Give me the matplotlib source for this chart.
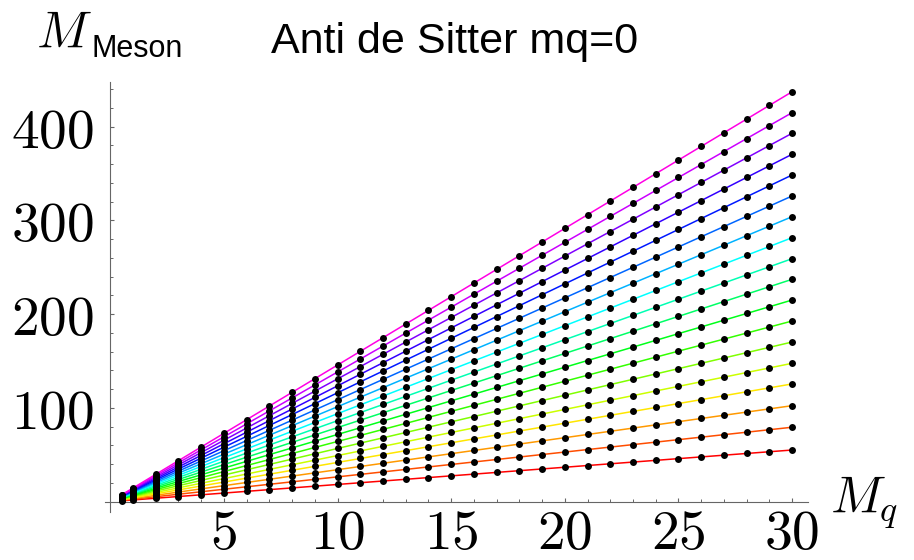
import numpy as np
import matplotlib
matplotlib.use("Agg")
import matplotlib.pyplot as plt
import colorsys
from matplotlib.ticker import FixedLocator, FixedFormatter

plt.rcParams['mathtext.fontset'] = 'cm'

# ---- data ----
# quark mass values where the meson masses are sampled
mq_values = [0.5, 1, 2, 3, 4, 5, 6, 7, 8, 9, 10, 11, 12, 13, 14, 15, 16,
             17, 18, 19, 20, 21, 22, 23, 24, 25, 26, 27, 28, 29, 30]
# meson mass of each radial mode at M_q = 30 (bottom line to top line)
meson_at_30 = [55.1, 79.4, 102.4, 125.6, 147.6, 170.3, 192.7, 215.1, 237.2,
               259.2, 281.6, 304.0, 326.1, 348.5, 370.6, 393.0, 415.0, 437.3]
mq_ref = 30.0

x_major = [5, 10, 15, 20, 25, 30]
x_major_labels = ['5', '10', '15', '20', '25', '30']
y_major = [100, 200, 300, 400]
y_major_labels = ['100', '200', '300', '400']
x_minor = list(range(1, 31))
y_minor = list(range(20, 441, 20))

# ---- figure ----
W, H = 914, 560
fig = plt.figure(figsize=(W / 100, H / 100), dpi=100)
left_px, right_px = 104.6, 808.0
top_px, bottom_px = 82.0, 511.7
ax = fig.add_axes([left_px / W, (H - bottom_px) / H,
                   (right_px - left_px) / W, (bottom_px - top_px) / H])
ax.set_xlim(-0.25, 30.7)
ax.set_ylim(-10.7, 447.7)

mq = np.array(mq_values, dtype=float)
for i, m30 in enumerate(meson_at_30):
    hue = 0.05 * i
    col = colorsys.hsv_to_rgb(hue, 1.0, 1.0)
    ax.plot(mq, m30 * mq / mq_ref, color=col, lw=1.1, zorder=2,
            solid_capstyle='butt')
for m30 in meson_at_30:
    ax.plot(mq, m30 * mq / mq_ref, linestyle='none', marker='o',
            markersize=5.0, color='black', markeredgewidth=0, zorder=3)

# Mathematica-style axes crossing at origin
for s in ['top', 'right']:
    ax.spines[s].set_visible(False)
ax.spines['left'].set_position(('data', 0))
ax.spines['bottom'].set_position(('data', 0))
axis_col = '#666666'
for s in ['left', 'bottom']:
    ax.spines[s].set_color(axis_col)
    ax.spines[s].set_linewidth(0.8)

ax.xaxis.set_major_locator(FixedLocator(x_major))
ax.xaxis.set_major_formatter(FixedFormatter(['$%s$' % t for t in x_major_labels]))
ax.yaxis.set_major_locator(FixedLocator(y_major))
ax.yaxis.set_major_formatter(FixedFormatter(['$%s$' % t for t in y_major_labels]))
ax.xaxis.set_minor_locator(FixedLocator(x_minor))
ax.yaxis.set_minor_locator(FixedLocator(y_minor))
ax.tick_params(which='major', direction='in', length=3.2, width=0.8,
               color=axis_col, labelsize=40, labelcolor='black')
ax.tick_params(which='minor', direction='in', length=2.0, width=0.7,
               color=axis_col)
ax.tick_params(axis='x', which='major', pad=4)
ax.tick_params(axis='y', which='major', pad=12)

def fx(px):
    return px / W

def fy(py):
    return (H - py) / H

fig.text(fx(455), fy(52.7), 'Anti de Sitter mq=0', family='Liberation Sans',
         fontsize=31, ha='center', va='baseline')
fig.text(fx(36), fy(47.3), r'$M$', fontsize=37, ha='left', va='baseline')
fig.text(fx(91), fy(56.7), 'Meson', family='Liberation Sans', fontsize=22,
         ha='left', va='baseline')
fig.text(fx(830), fy(513), r'$M_q$', fontsize=37, ha='left', va='baseline')

fig.savefig('out.png', dpi=100)
